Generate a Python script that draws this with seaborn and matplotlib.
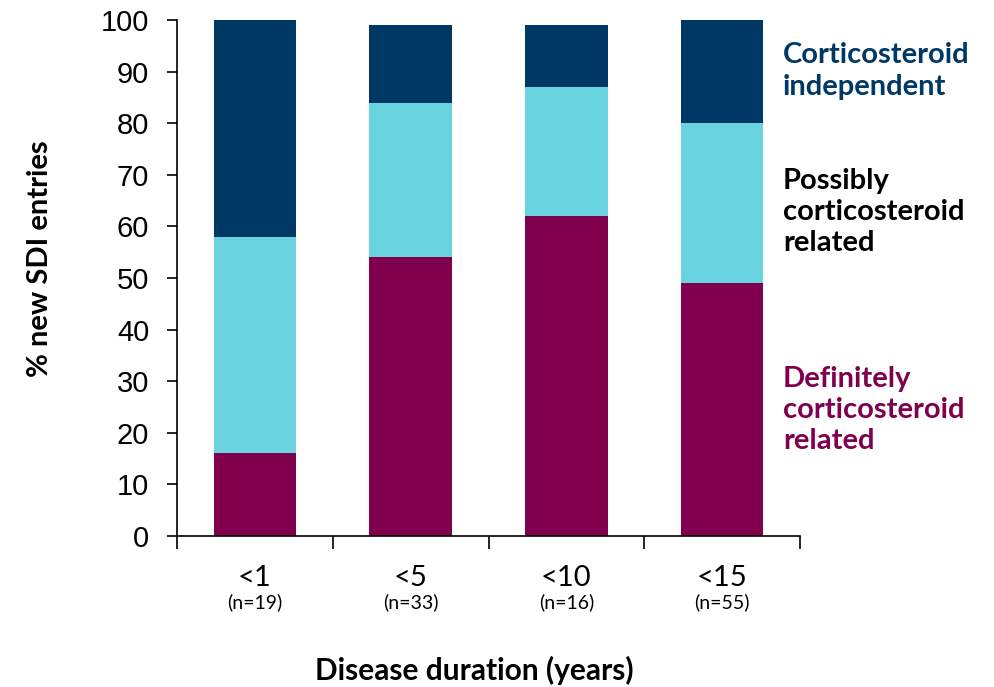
import matplotlib
matplotlib.use("Agg")
import matplotlib.pyplot as plt
import matplotlib.transforms as mtransforms
import seaborn as sns
import numpy as np
import pandas as pd

categories = ["<1", "<5", "<10", "<15"]
n_labels = ["(n=19)", "(n=33)", "(n=16)", "(n=55)"]
definitely = [16, 54, 62, 49]
possibly = [42, 30, 25, 31]
independent = [42, 15, 12, 20]

series_names = ["Definitely\ncorticosteroid\nrelated", "Possibly\ncorticosteroid\nrelated",
                "Corticosteroid\nindependent"]
colors = ["#80004D", "#69D3DF", "#003865"]
text_colors = ["#80004D", "#000000", "#003865"]

sns.set_theme(style="white")
plt.rcParams["font.family"] = ["Liberation Sans", "DejaVu Sans"]
CAL = ["Lato", "DejaVu Sans"]

fig = plt.figure(figsize=(9.94, 6.87), dpi=100)
ax = fig.add_axes([177/994, 1-536/687, (800-177)/994, (536-20)/687])

layers = [definitely, possibly, independent]
cum = np.cumsum(np.array(layers), axis=0)
# draw from top cumulative downwards so lower layers overlay
for i in range(len(layers) - 1, -1, -1):
    df = pd.DataFrame({"cat": categories, "val": cum[i]})
    sns.barplot(data=df, x="cat", y="val", color=colors[i], width=0.53,
                saturation=1, ax=ax, order=categories, linewidth=0, edgecolor="none")

ax.set_xlim(-0.5, 3.5)
ax.set_ylim(0, 100)
ax.set_yticks(range(0, 101, 10))
ax.tick_params(axis="y", labelsize=21, length=7, width=1.2, direction="out", left=True,
               pad=13, color="black", labelcolor="black")
ax.set_xticks([])
ax.set_xticks([-0.5, 0.5, 1.5, 2.5, 3.5], minor=True)
ax.tick_params(axis="x", which="minor", length=9, width=1.2, direction="out", bottom=True,
               color="black")
for s in ["top", "right"]:
    ax.spines[s].set_visible(False)
for s in ["left", "bottom"]:
    ax.spines[s].set_color("black")
    ax.spines[s].set_linewidth(1.2)
ax.set_xlabel("")
ax.set_ylabel("")

fig.text(40/994, 1-259/687, "% new SDI entries", rotation=90, ha="center", va="center",
         fontsize=21, fontweight="bold", family=CAL, color="black")

trans = mtransforms.blended_transform_factory(ax.transData, fig.transFigure)
for i, (c, n) in enumerate(zip(categories, n_labels)):
    ax.text(i, 1-578/687, c, transform=trans, ha="center", va="center", fontsize=21,
            family=CAL, color="black")
    ax.text(i, 1-602/687, n, transform=trans, ha="center", va="center", fontsize=14,
            family=CAL, color="black")

fig.text(474/994, 1-670/687, "Disease duration (years)", ha="center", va="center",
         fontsize=21.5, fontweight="bold", family=CAL, color="black")

label_y = [410, 212, 71]
for name, col, y in zip(series_names, text_colors, label_y):
    fig.text(783/994, 1-y/687, name, ha="left", va="center", fontsize=21,
             fontweight="bold", color=col, family=CAL, linespacing=1.25)

fig.savefig("out.png", dpi=100)
